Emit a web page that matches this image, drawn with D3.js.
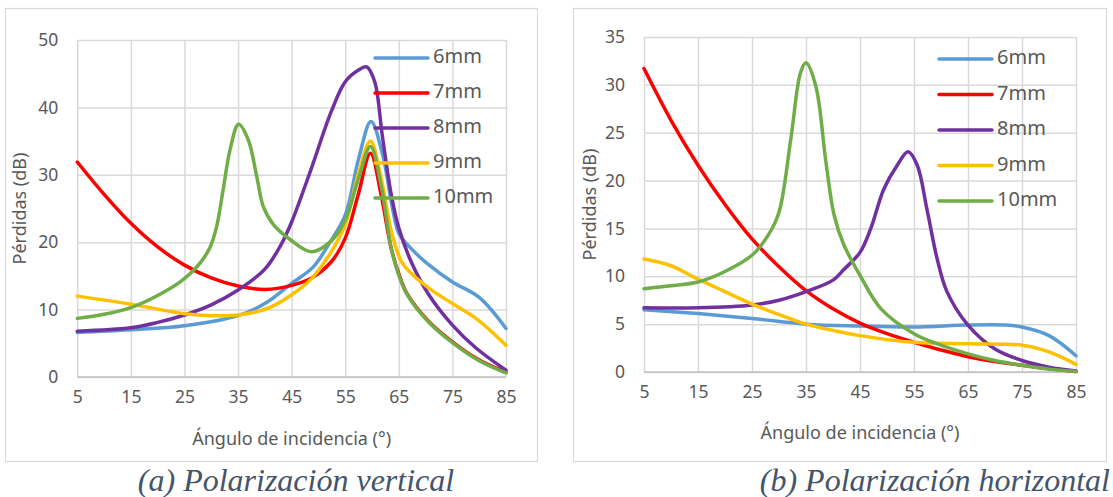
<!DOCTYPE html>
<html>
<head>
<meta charset="utf-8">
<script src="https://cdn.jsdelivr.net/npm/d3@7"></script>
<style>
  body { margin: 0; background: #fff; }
  svg { display: block; }
  .tick text { fill: #595959; font-family: "Noto Sans", sans-serif; }
</style>
</head>
<body>
<div id="chart"></div>
<script>
// angle ticks shared by both panels
var angleTicks = [5, 15, 25, 35, 45, 55, 65, 75, 85];
var vertTicks = [0, 10, 20, 30, 40, 50];
var horzTicks = [0, 5, 10, 15, 20, 25, 30, 35];

var seriesNames = ["6mm", "7mm", "8mm", "9mm", "10mm"];
var seriesColors = ["#5B9BD5", "#FF0000", "#7030A0", "#FFC000", "#70AD47"];

// (a) vertical polarization: [angle, dB]
var vert6mm = [[5,6.6],[15,7.0],[25,7.6],[35,9.1],[40,10.9],[45,13.9],[49,16.3],[52,19.8],[55,24],[57.5,32.4],[59.8,37.9],[62,32.9],[63.8,25.1],[65,21.3],[67,19.3],[70.5,16.7],[75,14.1],[80,11.8],[85,7.2]];
var vert7mm = [[5,31.9],[10,27.1],[15,22.8],[20,19.3],[25,16.6],[30,14.7],[35,13.5],[40,13.0],[45,13.6],[48.7,14.7],[52.4,17.1],[55,20.6],[57.4,27],[59.7,33.2],[61.7,27],[63.6,19],[65,15.3],[66.5,12.4],[70.5,8.3],[75,5.2],[80,2.5],[85,0.7]];
var vert8mm = [[5,6.8],[15,7.3],[20,8.1],[25,9.2],[30,10.7],[35,12.9],[40,16.0],[43,19.6],[45,23],[48.7,31],[52.4,39.4],[55,43.8],[57.4,45.5],[59,46.0],[60.5,43.8],[61.9,35.9],[63.6,27],[65,22.1],[67.3,17.1],[70.6,12.2],[75,7.7],[79.4,4.3],[85,1.0]];
var vert9mm = [[5,12.0],[15,10.8],[25,9.4],[30,9.1],[35,9.2],[40.6,10.2],[45,12.2],[48.7,14.6],[52.4,18.6],[55,22.6],[57.4,30],[59.7,35.0],[61.7,29.5],[63.6,21.6],[65.5,17.1],[67.3,15.4],[70.6,13.2],[75,10.9],[79.4,8.7],[85,4.7]];
var vert10mm = [[5,8.7],[10,9.3],[15,10.3],[20,12.1],[24.2,14.1],[27.9,16.9],[29.8,19.3],[31,22.3],[32.2,27.7],[33.5,33.7],[35.1,37.5],[36.9,35.2],[38.5,29.7],[39.7,25.3],[41.6,22.6],[44.7,20.4],[48.7,18.6],[52.4,20.2],[55,23.3],[57.5,29.5],[59.7,34.2],[61.8,28],[63.6,19],[65,15.1],[66.5,12.3],[70.5,8.2],[75,5.1],[80,2.4],[85,0.6]];

// (b) horizontal polarization: [angle, dB]
var horz6mm = [[5,6.5],[15,6.1],[25,5.6],[35,5.0],[45,4.8],[55,4.7],[65,4.9],[72,4.9],[75,4.7],[80,3.8],[85,1.7]];
var horz7mm = [[5,31.7],[10,26.3],[15,21.6],[20,17.5],[25,13.9],[30,11.0],[35,8.5],[40,6.6],[45,5.1],[50,4.0],[55,3.1],[60,2.3],[65,1.6],[70,1.1],[75,0.7],[80,0.35],[85,0.05]];
var horz8mm = [[5,6.7],[15,6.7],[25,7.0],[30,7.5],[35,8.4],[40,9.6],[42,10.7],[45,12.5],[47,15],[49.4,19.1],[51.9,21.6],[53.9,23.0],[55.6,21.6],[57.4,17],[59.3,11.8],[61.1,8.4],[65,4.9],[70,2.4],[75,1.2],[80,0.5],[85,0.1]];
var horz9mm = [[5,11.8],[10,11.1],[15,9.7],[20,8.4],[25,7.1],[30,6.0],[35,5.0],[40,4.35],[45,3.8],[55,3.1],[65,2.95],[75,2.8],[80,2.1],[85,0.8]];
var horz10mm = [[5,8.7],[10,9.0],[15,9.4],[20,10.5],[25,12.2],[28,14.3],[30,16.7],[32.2,24.4],[34,31.3],[35,32.3],[36.8,29.9],[38.7,21.9],[40.2,16.4],[42,13.3],[45,10.1],[48.9,6.6],[55,4.0],[60,2.8],[65,1.9],[70,1.2],[75,0.7],[80,0.3],[85,0.05]];

var W = 1113, H = 497;

var svg = d3.select("#chart").append("svg")
    .attr("width", W)
    .attr("height", H);

var panels = [
  {frame: [5.5, 8.5, 532, 453], x0: 77.3, x1: 506, y0: 377, y1: 40, yMax: 50, yTicks: vertTicks,
   series: [vert6mm, vert7mm, vert8mm, vert9mm, vert10mm],
   legendX: 375, legendY: 58, legendStep: 35,
   titleY: 440, yTitleX: 21,
   caption: "(a) Polarización vertical", capX: 296, capAnchor: "middle"},
  {frame: [573.5, 8.5, 533, 453], x0: 644, x1: 1076, y0: 372, y1: 37, yMax: 35, yTicks: horzTicks,
   series: [horz6mm, horz7mm, horz8mm, horz9mm, horz10mm],
   legendX: 939, legendY: 59, legendStep: 35.5,
   titleY: 434, yTitleX: 591,
   caption: "(b) Polarización horizontal", capX: 1110, capAnchor: "end"}
];

panels.forEach(function(p) {
  var g = svg.append("g");

  g.append("rect")
      .attr("x", p.frame[0]).attr("y", p.frame[1])
      .attr("width", p.frame[2]).attr("height", p.frame[3])
      .attr("fill", "#fff")
      .attr("stroke", "#d9d9d9")
      .attr("stroke-width", 1.2);

  var x = d3.scaleLinear().domain([5, 85]).range([p.x0, p.x1]);
  var y = d3.scaleLinear().domain([0, p.yMax]).range([p.y0, p.y1]);

  // vertical grid
  var xg = g.append("g")
      .attr("transform", "translate(0," + p.y0 + ")")
      .call(d3.axisBottom(x).tickValues(angleTicks).tickSize(-(p.y0 - p.y1)).tickFormat(""));
  xg.select(".domain").remove();
  xg.selectAll("line").attr("stroke", "#d9d9d9").attr("stroke-width", 1.5);

  // horizontal grid
  var yg = g.append("g")
      .attr("transform", "translate(" + p.x0 + ",0)")
      .call(d3.axisLeft(y).tickValues(p.yTicks).tickSize(-(p.x1 - p.x0)).tickFormat(""));
  yg.select(".domain").remove();
  yg.selectAll("line").attr("stroke", "#d9d9d9").attr("stroke-width", 1.5);

  // bottom axis line
  g.append("line")
      .attr("x1", p.x0).attr("x2", p.x1)
      .attr("y1", p.y0).attr("y2", p.y0)
      .attr("stroke", "#bfbfbf").attr("stroke-width", 1.5);

  // tick labels
  var xa = g.append("g")
      .attr("transform", "translate(0," + p.y0 + ")")
      .call(d3.axisBottom(x).tickValues(angleTicks).tickSize(0).tickPadding(14));
  xa.select(".domain").remove();
  xa.selectAll("text").style("font-size", "17.5px");

  var ya = g.append("g")
      .attr("transform", "translate(" + p.x0 + ",0)")
      .call(d3.axisLeft(y).tickValues(p.yTicks).tickSize(0).tickPadding(19));
  ya.select(".domain").remove();
  ya.selectAll("text").style("font-size", "17.5px");

  // axis titles
  g.append("text")
      .attr("x", (p.x0 + p.x1) / 2)
      .attr("y", p.titleY)
      .attr("text-anchor", "middle")
      .attr("dominant-baseline", "middle")
      .attr("fill", "#595959")
      .style("font-family", "'Noto Sans', sans-serif")
      .style("font-size", "18px")
      .text("Ángulo de incidencia (°)");

  g.append("text")
      .attr("transform", "translate(" + p.yTitleX + "," + ((p.y0 + p.y1) / 2) + ") rotate(-90)")
      .attr("text-anchor", "middle")
      .attr("dominant-baseline", "middle")
      .attr("fill", "#595959")
      .style("font-family", "'Noto Sans', sans-serif")
      .style("font-size", "18px")
      .text("Pérdidas (dB)");

  // series lines
  var line = d3.line()
      .x(function(d) { return x(d[0]); })
      .y(function(d) { return y(d[1]); })
      .curve(d3.curveCatmullRom.alpha(0.5));

  p.series.forEach(function(s, i) {
    g.append("path")
        .datum(s)
        .attr("d", line)
        .attr("fill", "none")
        .attr("stroke", seriesColors[i])
        .attr("stroke-width", 3.5)
        .attr("stroke-linejoin", "round")
        .attr("stroke-linecap", "round");
  });

  // legend
  var leg = g.append("g");
  seriesNames.forEach(function(name, i) {
    var ly = p.legendY + i * p.legendStep;
    leg.append("line")
        .attr("x1", p.legendX).attr("x2", p.legendX + 53)
        .attr("y1", ly).attr("y2", ly)
        .attr("stroke", seriesColors[i])
        .attr("stroke-width", 3.5)
        .attr("stroke-linecap", "round");
    leg.append("text")
        .attr("x", p.legendX + 58)
        .attr("y", ly)
        .attr("dominant-baseline", "middle")
        .attr("fill", "#595959")
        .style("font-family", "'Noto Sans', sans-serif")
        .style("font-size", "20px")
        .text(name);
  });

  // caption
  svg.append("text")
      .attr("x", p.capX)
      .attr("y", 491)
      .attr("text-anchor", p.capAnchor)
      .attr("fill", "#44546A")
      .attr("font-family", "Liberation Serif, Tinos, Times New Roman, Times, Nimbus Roman, FreeSerif, DejaVu Serif, serif")
      .attr("font-style", "italic")
      .attr("font-size", 32)
      .text(p.caption);
});
</script>
</body>
</html>
